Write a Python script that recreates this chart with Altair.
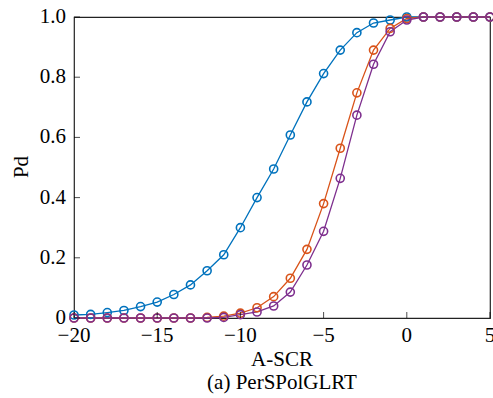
import altair as alt
import pandas as pd

x_vals = list(range(-20, 6))
blue = [0.01, 0.012, 0.018, 0.025, 0.038, 0.053, 0.078, 0.11, 0.157, 0.21, 0.30, 0.40, 0.495,
        0.608, 0.718, 0.812, 0.89, 0.948, 0.98, 0.99, 1.0, 1.0, 1.0, 1.0, 1.0, 1.0]
orange = [0, 0, 0, 0, 0, 0, 0, 0, 0.002, 0.006, 0.016, 0.034, 0.071, 0.132, 0.228, 0.38,
          0.564, 0.748, 0.89, 0.962, 0.995, 1.0, 1.0, 1.0, 1.0, 1.0]
purple = [0, 0, 0, 0, 0, 0, 0, 0, 0, 0.002, 0.011, 0.02, 0.04, 0.086, 0.176, 0.288,
          0.464, 0.674, 0.843, 0.951, 0.99, 1.0, 1.0, 1.0, 1.0, 1.0]
series_names = ["s1", "s2", "s3"]
series_colors = ["#0072BD", "#D95319", "#7E2F8E"]
x_ticks = [-20, -15, -10, -5, 0, 5]
y_ticks = [0, 0.2, 0.4, 0.6, 0.8, 1.0]
x_title = "A-SCR"
y_title = "Pd"
caption = "(a) PerSPolGLRT"

rows = []
for name, vals in zip(series_names, [blue, orange, purple]):
    for xv, yv in zip(x_vals, vals):
        rows.append({"x": xv, "y": yv, "s": name})
df = pd.DataFrame(rows)

x_lab = pd.DataFrame({"t": x_ticks, "lab": [str(v).replace("-", "\u2212") for v in x_ticks]})
y_lab = pd.DataFrame({"t": y_ticks, "lab": ["0" if v == 0 else f"{v:.1f}" for v in y_ticks]})

font = "Times New Roman"
fs = 21
xs = alt.Scale(domain=[-20, 5], nice=False)
ys = alt.Scale(domain=[0, 1], nice=False)
noax = alt.Axis(labels=False, ticks=False, domain=False, grid=False, title="")

color = alt.Color("s:N", scale=alt.Scale(domain=series_names, range=series_colors), legend=None)

base = alt.Chart(df).encode(
    x=alt.X("x:Q", scale=xs, axis=noax),
    y=alt.Y("y:Q", scale=ys, axis=noax),
    color=color,
    order=alt.Order("x:Q"),
)
lines = base.mark_line(strokeWidth=1.3, clip=False)
points = base.mark_point(filled=False, size=65, strokeWidth=1.6, opacity=1, clip=False)

xt = alt.Chart(x_lab).mark_tick(
    orient="vertical", size=6, thickness=1, yOffset=-3, color="black"
).encode(x=alt.X("t:Q", scale=xs, axis=noax), y=alt.YDatum(0, axis=noax))
yt = alt.Chart(y_lab).mark_tick(
    orient="horizontal", size=6, thickness=1, xOffset=3, color="black"
).encode(y=alt.Y("t:Q", scale=ys, axis=noax), x=alt.XDatum(-20, axis=noax))

xl = alt.Chart(x_lab).mark_text(
    font=font, fontSize=fs, baseline="alphabetic", align="center", dy=24, color="black"
).encode(x=alt.X("t:Q", scale=xs, axis=noax), y=alt.YDatum(0, axis=noax), text="lab:N")
yl = alt.Chart(y_lab).mark_text(
    font=font, fontSize=fs, baseline="middle", align="right", dx=-8, color="black"
).encode(y=alt.Y("t:Q", scale=ys, axis=noax), x=alt.XDatum(-20, axis=noax), text="lab:N")

xtitle = alt.Chart(pd.DataFrame({"t": [x_title]})).mark_text(
    font=font, fontSize=fs, baseline="alphabetic", align="center", color="black"
).encode(text="t:N", x=alt.value(208), y=alt.value(349))
cap = alt.Chart(pd.DataFrame({"t": [caption]})).mark_text(
    font=font, fontSize=fs, baseline="alphabetic", align="center", color="black"
).encode(text="t:N", x=alt.value(208), y=alt.value(372))
ytitle = alt.Chart(pd.DataFrame({"t": [y_title]})).mark_text(
    font=font, fontSize=fs, baseline="alphabetic", align="center", angle=270, color="black"
).encode(text="t:N", x=alt.value(-46), y=alt.value(150))

chart = alt.layer(lines, points, xt, yt, xl, yl, xtitle, cap, ytitle).properties(
    width=416, height=301,
    autosize=alt.AutoSizeParams(type="none"),
    padding={"left": 74, "top": 17, "right": 3, "bottom": 80},
).configure(font=font).configure_view(stroke="#222222", strokeWidth=1.2)

chart.save("out.html", embed_options={"renderer": "svg", "actions": False})
